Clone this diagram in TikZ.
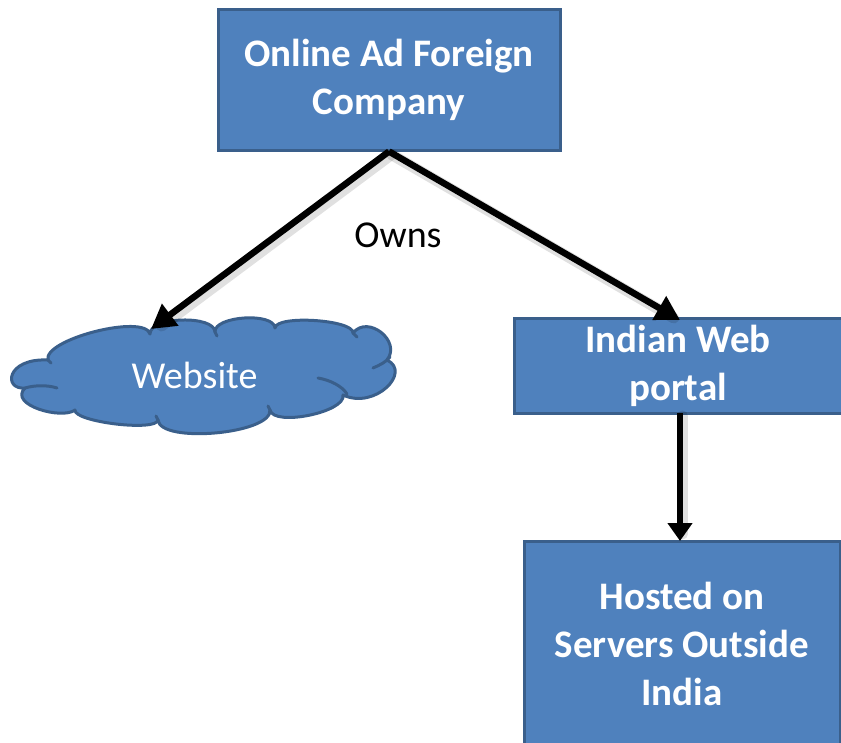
\documentclass[tikz,border=0pt]{standalone}
\usepackage{fontspec}
\setmainfont{Carlito}
\usetikzlibrary{arrows.meta,calc}
\definecolor{boxfill}{HTML}{4F81BD}
\definecolor{boxline}{HTML}{3A5F8B}
\begin{document}
\begin{tikzpicture}[x=1pt,y=-1pt,
  box/.style={draw=boxline, line width=3pt, fill=boxfill, text=white,
    font=\bfseries\fontsize{39}{48}\selectfont, align=center, inner sep=0pt},
  conn/.style={line width=6.5pt, -{Triangle[length=24pt,width=26pt]}},
  connshadow/.style={line width=11pt, draw=black, opacity=0.12, line cap=round,
    shorten >=10pt, transform canvas={shift={(2.5pt,-3pt)}}},
  cloudline/.style={draw=boxline, line width=3pt, line cap=round},
  label/.style={font=\fontsize{38}{46}\selectfont, inner sep=0pt}]
\useasboundingbox (0,0) rectangle (841,742);
\clip (0,0) rectangle (841,742);

% boxes
\node[box, minimum width=342pt, minimum height=141pt] (company) at (389,79.5)
  {Online Ad Foreign\\Company};
\node[box, minimum width=328pt, minimum height=95pt] (portal) at (678,365.5)
  {Indian Web\\portal};
\node[box, minimum width=316pt, minimum height=206pt] (hosted) at (682,644)
  {Hosted on\\Servers Outside\\India};

% cloud outline, puff by puff
\filldraw[cloudline, fill=boxfill, line join=round]
  (48,360) .. controls (42.7,339.4) and (144.7,313.4) .. (150,334)
  .. controls (149.5,316.7) and (214.5,314.7) .. (215,332)
  .. controls (213.9,316) and (273.9,312) .. (275,328)
  .. controls (275.9,314.7) and (353.9,319.7) .. (353,333)
  .. controls (367.9,314.2) and (401.9,341.2) .. (387,360)
  .. controls (412,372) and (375,410) .. (343,395)
  .. controls (346.5,412) and (273.5,427) .. (270,410)
  .. controls (272.1,433.9) and (160.1,443.9) .. (158,420)
  .. controls (156.6,431.9) and (73.6,421.9) .. (75,410)
  .. controls (62,420) and (8,405) .. (25,388)
  .. controls (3,390) and (6,358) .. cycle;
% inner arcs and ticks of the cloud
\draw[cloudline] (25,388) .. controls (35,385) and (48,385) .. (57,388);
\draw[cloudline] (373,368) .. controls (380,365) and (386,362) .. (390,357);
\draw[cloudline] (318,378) .. controls (330,380) and (342,386) .. (347,394);
\draw[cloudline] (215,332) -- (217,336);
\draw[cloudline] (353,333) -- (357,337);
\draw[cloudline] (270,410) -- (268,406);
\draw[cloudline] (158,420) -- (156,416);
\draw[cloudline] (48,360) -- (51,363);

\node[label, text=white] (website) at (194.5,375) {Website};
\node[label] (owns) at (398,235) {Owns};

% connector end points
\coordinate (webtip) at (151,329);
\coordinate (portaltip) at (680,320);
\coordinate (hostedtip) at (680,541);
\coordinate (portalfoot) at (680,413);

% soft shadows under the connectors
\draw[connshadow] (company.south) -- (webtip);
\draw[connshadow] (company.south) -- (portaltip);
\draw[connshadow] (portalfoot) -- (hostedtip);

% connectors
\draw[conn] (company.south) -- (webtip);
\draw[conn] (company.south) -- (portaltip);
\draw[conn, -{Triangle[length=18pt,width=24pt]}] (portalfoot) -- (hostedtip);
\end{tikzpicture}
\end{document}
